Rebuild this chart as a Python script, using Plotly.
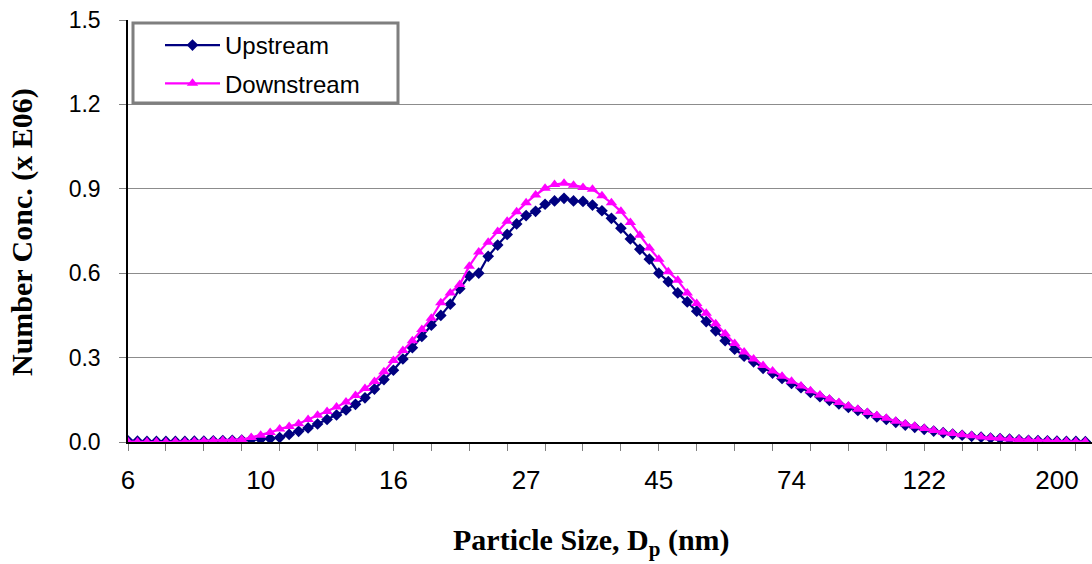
import numpy as np
import plotly.graph_objects as go

# ---- data (SMPS size channels, 64 per decade, starting at 6.04 nm) ----
n_channels = 102
diameters = [10 ** (np.log10(6.04) + i / 64) for i in range(n_channels)]

upstream = [
    0.004, 0.003, 0.002, 0.002, 0.002, 0.002, 0.002, 0.003, 0.003, 0.004,
    0.005, 0.006, 0.007, 0.009, 0.010, 0.012, 0.016, 0.027, 0.038, 0.050,
    0.064, 0.080, 0.096, 0.114, 0.134, 0.157, 0.188, 0.222, 0.255, 0.295,
    0.335, 0.375, 0.415, 0.450, 0.490, 0.545, 0.590, 0.600, 0.660, 0.700,
    0.738, 0.775, 0.805, 0.820, 0.845, 0.857, 0.866, 0.857, 0.855, 0.842,
    0.822, 0.795, 0.760, 0.722, 0.685, 0.650, 0.600, 0.570, 0.530, 0.498,
    0.465, 0.428, 0.395, 0.360, 0.330, 0.305, 0.285, 0.262, 0.245, 0.226,
    0.208, 0.193, 0.176, 0.161, 0.148, 0.135, 0.123, 0.112, 0.101, 0.089,
    0.080, 0.070, 0.060, 0.052, 0.045, 0.039, 0.033, 0.028, 0.024, 0.020,
    0.017, 0.014, 0.012, 0.010, 0.008, 0.006, 0.005, 0.004, 0.003, 0.002,
    0.002, 0.001,
]

downstream = [
    0.001, 0.000, 0.000, 0.000, 0.000, 0.001, 0.001, 0.002, 0.003, 0.004,
    0.005, 0.006, 0.009, 0.016, 0.024, 0.034, 0.046, 0.055, 0.065, 0.080,
    0.095, 0.108, 0.124, 0.142, 0.165, 0.190, 0.215, 0.250, 0.290, 0.325,
    0.360, 0.400, 0.440, 0.495, 0.530, 0.560, 0.625, 0.675, 0.710, 0.748,
    0.785, 0.818, 0.850, 0.878, 0.902, 0.915, 0.920, 0.913, 0.905, 0.898,
    0.875, 0.850, 0.820, 0.780, 0.735, 0.690, 0.650, 0.605, 0.575, 0.530,
    0.492, 0.458, 0.420, 0.385, 0.350, 0.320, 0.295, 0.272, 0.252, 0.234,
    0.216, 0.199, 0.182, 0.167, 0.153, 0.140, 0.128, 0.116, 0.105, 0.094,
    0.084, 0.074, 0.064, 0.056, 0.048, 0.041, 0.035, 0.030, 0.026, 0.022,
    0.018, 0.015, 0.013, 0.011, 0.009, 0.007, 0.005, 0.004, 0.003, 0.002,
    0.001, 0.001,
]

tick_labels = ["6", "10", "16", "27", "45", "74", "122", "200"]
label_every = 14
tick_every = 4
y_ticks = [0.0, 0.3, 0.6, 0.9, 1.2, 1.5]

label_vals = [diameters[i * label_every] for i in range(len(tick_labels))]
minor_vals = [diameters[i] for i in range(0, n_channels, tick_every)]

SANS = "Liberation Sans, Arial, sans-serif"
SERIF = "Liberation Serif, Times New Roman, serif"

fig = go.Figure()
fig.add_trace(go.Scatter(
    x=diameters, y=upstream, name="Upstream", mode="lines+markers",
    line=dict(color="#000080", width=2.2),
    marker=dict(symbol="diamond", size=9, color="#000080"),
    legendgroup="a", cliponaxis=True,
))
fig.add_trace(go.Scatter(
    x=diameters, y=downstream, name="Downstream", mode="lines+markers",
    line=dict(color="#FF00FF", width=2.2),
    marker=dict(symbol="triangle-up", size=10, color="#FF00FF"),
    legendgroup="b", cliponaxis=True,
))

L, T, B = 128, 20, 122
W, H = 1092, 564
pw = W - L
ph = H - T - B

def px_x(p):
    return (p - L) / pw

def px_y(p):
    return (H - B - p) / ph

fig.update_layout(
    width=W, height=H,
    margin=dict(l=L, r=0, t=T, b=B),
    paper_bgcolor="white", plot_bgcolor="white",
    showlegend=True,
    legend=dict(
        x=px_x(160), y=px_y(23), xanchor="left", yanchor="top",
        bgcolor="rgba(0,0,0,0)", borderwidth=0,
        font=dict(family=SANS, size=24, color="black"),
        itemwidth=55, tracegroupgap=4, traceorder="grouped",
    ),
    xaxis=dict(
        type="log",
        range=[np.log10(diameters[0]), np.log10(diameters[0]) + 101.7 / 64],
        tickmode="array", tickvals=label_vals, ticktext=tick_labels,
        ticks="", showgrid=False, zeroline=False,
        showline=True, linecolor="black", linewidth=1.5,
        tickfont=dict(family=SANS, size=26, color="black"),
        ticklabelstandoff=14, ticklabeloverflow="allow",
        minor=dict(tickmode="array", tickvals=minor_vals, ticks="outside",
                   ticklen=7, tickcolor="#808080", tickwidth=1, showgrid=False),
    ),
    yaxis=dict(
        range=[0, 1.5], tickmode="array", tickvals=y_ticks,
        tickformat=".1f",
        ticks="outside", ticklen=7, tickcolor="#808080",
        showgrid=True, gridcolor="#8c8c8c", gridwidth=1,
        zeroline=False, showline=True, linecolor="black", linewidth=1.5,
        tickfont=dict(family=SANS, size=23, color="black"),
        ticklabelstandoff=14,
    ),
    shapes=[dict(
        type="rect", xref="paper", yref="paper",
        x0=px_x(133), x1=px_x(398), y0=px_y(103), y1=px_y(23),
        line=dict(color="#7f7f7f", width=3), fillcolor="rgba(0,0,0,0)",
    )],
    annotations=[
        dict(text="<b>Particle Size, D<sub>p</sub> (nm)</b>",
             xref="paper", yref="paper", x=px_x(591), y=px_y(542),
             xanchor="center", yanchor="middle", showarrow=False,
             font=dict(family=SERIF, size=30, color="black")),
        dict(text="<b>Number Conc. (x E06)</b>",
             xref="paper", yref="paper", x=px_x(22), y=px_y(232),
             xanchor="center", yanchor="middle", showarrow=False, textangle=-90,
             font=dict(family=SERIF, size=30, color="black")),
    ],
)

fig.write_html("out.html")
